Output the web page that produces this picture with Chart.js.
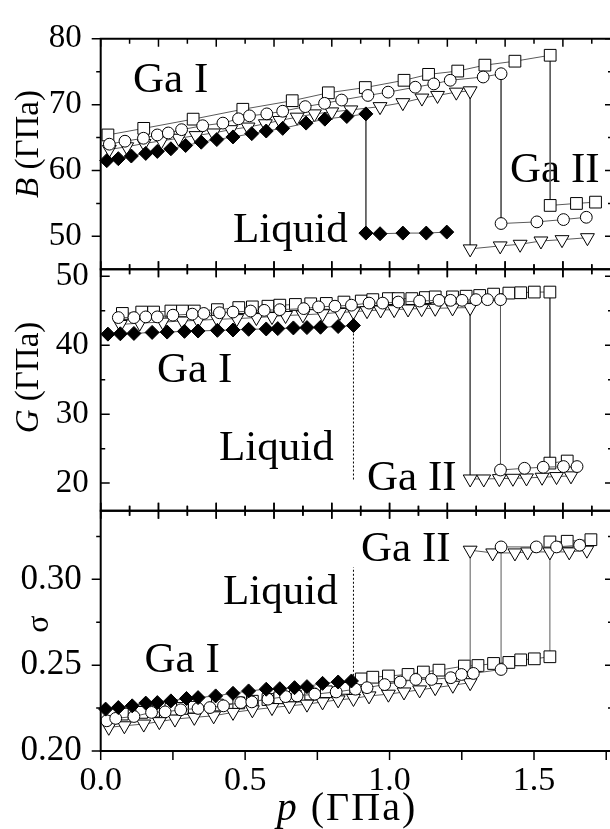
<!DOCTYPE html>
<html>
<head>
<meta charset="utf-8">
<script src="https://cdn.jsdelivr.net/npm/chart.js@4.4.1/dist/chart.umd.min.js"></script>
<style>
  html, body { margin: 0; padding: 0; background: #fff; width: 610px; height: 829px; overflow: hidden; }
  canvas { position: absolute; left: 0; top: 0; }
</style>
</head>
<body>
<canvas id="bChart" width="620" height="829"></canvas>
<canvas id="gChart" width="620" height="829"></canvas>
<canvas id="sChart" width="620" height="829"></canvas>
<script>
// ---- data: [p (GPa), value] ----
// bulk modulus B
const B_diamonds = [[0.021,61.5],[0.061,61.8],[0.106,62.2],[0.156,62.6],[0.196,62.9],[0.243,63.3],[0.294,63.8],[0.348,64.3],[0.402,64.7],[0.458,65.1],[0.523,65.6],[0.573,66.0],[0.630,66.4],[0.711,67.2],[0.776,67.8],[0.852,68.2],[0.918,68.6],
  [0.918,50.5],[0.967,50.4],[1.046,50.5],[1.127,50.5],[1.198,50.65]];
const B_squares = [[0.025,65.4],[0.149,66.4],[0.320,67.8],[0.492,69.3],[0.663,70.6],[0.788,71.8],[0.916,72.6],[1.050,73.7],[1.135,74.6],[1.236,75.1],[1.330,76.0],[1.434,76.6],[1.556,77.5],
  [1.556,54.7],[1.647,55.0],[1.713,55.2]];
const B_circles = [[0.030,64.0],[0.084,64.45],[0.148,64.9],[0.196,65.4],[0.234,65.7],[0.280,66.2],[0.353,66.8],[0.423,67.2],[0.477,67.85],[0.515,68.3],[0.575,68.6],[0.630,69.0],[0.708,69.7],[0.775,70.2],[0.834,70.7],[0.925,71.4],[0.995,71.9],[1.089,72.65],[1.153,73.15],[1.210,73.7],[1.324,74.2],[1.386,74.7],
  [1.386,51.95],[1.510,52.2],[1.602,52.55],[1.681,52.9]];
const B_triangles = [[0.030,63.2],[0.090,63.6],[0.150,64.1],[0.210,64.5],[0.270,64.9],[0.330,65.3],[0.390,65.7],[0.450,66.2],[0.510,66.6],[0.570,67.1],[0.620,67.6],[0.680,68.1],[0.740,68.6],[0.800,68.9],[0.866,69.2],[0.967,69.7],[1.046,70.3],[1.112,71.0],[1.166,71.4],[1.231,71.9],[1.279,72.1],
  [1.279,48.1],[1.383,48.55],[1.452,48.8],[1.524,49.3],[1.597,49.5],[1.685,49.8]];

// shear modulus G
const G_diamonds = [[0.025,41.6],[0.068,41.65],[0.115,41.7],[0.178,41.85],[0.230,41.9],[0.290,42.0],[0.337,42.05],[0.404,42.15],[0.458,42.2],[0.512,42.3],[0.573,42.35],[0.613,42.4],[0.667,42.5],[0.714,42.55],[0.761,42.6],[0.822,42.7],[0.875,42.85]];
const G_liquid = [[0.875,42.85],[0.875,20.5]];
const G_squares = [[0.075,44.6],[0.142,44.8],[0.183,44.8],[0.243,44.95],[0.283,44.95],[0.324,44.95],[0.404,45.15],[0.478,45.45],[0.525,45.55],[0.579,45.65],[0.620,45.8],[0.674,45.9],[0.727,46.0],[0.781,46.05],[0.842,46.25],[0.902,46.4],[0.942,46.6],[0.996,46.75],[1.030,46.75],[1.077,46.75],[1.124,46.9],[1.158,47.0],[1.218,47.0],[1.265,47.1],[1.312,47.2],[1.360,47.4],[1.413,47.55],[1.454,47.6],[1.501,47.7],[1.555,47.7],
  [1.555,22.9],[1.615,23.2]];
const G_circles = [[0.061,44.0],[0.115,44.0],[0.156,44.1],[0.196,44.1],[0.250,44.35],[0.317,44.5],[0.357,44.6],[0.411,44.7],[0.458,44.8],[0.519,44.95],[0.566,45.05],[0.620,45.15],[0.703,45.3],[0.754,45.55],[0.811,45.65],[0.868,45.8],[0.929,46.1],[0.976,46.1],[1.030,46.25],[1.104,46.4],[1.171,46.5],[1.211,46.5],[1.251,46.5],[1.299,46.6],[1.339,46.6],[1.384,46.6],
  [1.384,21.9],[1.467,22.15],[1.532,22.3],[1.602,22.4],[1.649,22.4]];
const G_triangles = [[0.068,43.0],[0.135,43.2],[0.215,43.35],[0.283,43.5],[0.337,43.6],[0.404,43.75],[0.471,43.85],[0.539,44.0],[0.593,44.15],[0.640,44.3],[0.700,44.4],[0.768,44.55],[0.828,44.75],[0.875,44.85],[0.922,45.0],[0.969,45.1],[1.016,45.15],[1.064,45.25],[1.111,45.3],[1.158,45.35],[1.218,45.4],[1.279,45.45],
  [1.279,20.6],[1.326,20.6],[1.380,20.65],[1.427,20.7],[1.474,20.75],[1.528,20.85],[1.578,20.95],[1.628,21.05]];

// Poisson ratio sigma
const S_diamonds = [[0.017,0.2244],[0.061,0.2253],[0.109,0.2263],[0.156,0.2279],[0.196,0.2282],[0.243,0.2292],[0.297,0.2306],[0.337,0.2311],[0.398,0.2321],[0.458,0.2336],[0.512,0.2350],[0.573,0.2360],[0.620,0.2363],[0.671,0.2369],[0.714,0.2375],[0.768,0.2394],[0.822,0.2402],[0.868,0.2408]];
const S_liquid = [[0.875,0.2415],[0.875,0.307]];
const S_squares = [[0.075,0.2215],[0.142,0.2225],[0.183,0.2232],[0.243,0.2242],[0.283,0.2248],[0.324,0.2255],[0.404,0.2268],[0.478,0.2280],[0.525,0.2290],[0.579,0.2300],[0.620,0.2310],[0.674,0.2320],[0.727,0.2332],[0.781,0.2345],[0.842,0.2365],[0.902,0.2420],[0.942,0.2430],[0.996,0.2437],[1.064,0.2446],[1.117,0.2460],[1.171,0.2471],[1.259,0.2495],[1.306,0.2498],[1.360,0.2510],[1.413,0.2516],[1.454,0.2531],[1.501,0.2537],[1.555,0.2549],
  [1.555,0.3218],[1.615,0.3222],[1.697,0.3231]];
const S_circles = [[0.021,0.2176],[0.052,0.2190],[0.115,0.2201],[0.176,0.2225],[0.223,0.2228],[0.277,0.2240],[0.337,0.2248],[0.378,0.2253],[0.425,0.2263],[0.485,0.2282],[0.523,0.2286],[0.579,0.2302],[0.640,0.2317],[0.680,0.2321],[0.741,0.2331],[0.815,0.2344],[0.882,0.2360],[0.922,0.2369],[0.983,0.2387],[1.037,0.2402],[1.091,0.2417],[1.145,0.2417],[1.212,0.2427],[1.249,0.2446],[1.290,0.2452],[1.386,0.2475],
  [1.386,0.3189],[1.508,0.3189],[1.578,0.3189],[1.658,0.3199]];
const S_triangles = [[0.028,0.2138],[0.082,0.2147],[0.149,0.2157],[0.203,0.2171],[0.257,0.2186],[0.324,0.2196],[0.391,0.2205],[0.458,0.2225],[0.525,0.2240],[0.593,0.2253],[0.653,0.2263],[0.714,0.2273],[0.768,0.2286],[0.822,0.2298],[0.875,0.2306],[0.929,0.2321],[0.996,0.2331],[1.050,0.2344],[1.104,0.2356],[1.158,0.2369],[1.219,0.2383],[1.279,0.2398],
  [1.279,0.3170],[1.357,0.3154],[1.434,0.3154],[1.478,0.3160],[1.555,0.3160],[1.622,0.3160],[1.683,0.3170]];

// ticks
const pAxisTicks = [0, 0.25, 0.5, 0.75, 1.0, 1.25, 1.5, 1.75];
const pEdgeTicks = [0, 0.1, 0.2, 0.3, 0.4, 0.5, 0.6, 0.7, 0.8, 0.9, 1.0, 1.1, 1.2, 1.3, 1.4, 1.5, 1.6, 1.7];
const bTicks = [50, 60, 70, 80], bMinor = [55, 65, 75];
const gTicks = [20, 30, 40, 50], gMinor = [25, 35, 45];
const sTicks = [0.20, 0.25, 0.30], sMinor = [0.225, 0.275, 0.325];

const FONT = "'Liberation Serif', 'Times New Roman', serif";
const W = 620, H = 829, LEFT = 100.7, RIGHT = 612;

function drawParts(ctx, parts, size, x, y, rotate, spacing) {
  ctx.save();
  ctx.translate(x, y);
  if (rotate) ctx.rotate(-Math.PI / 2);
  ctx.letterSpacing = (spacing || 0) + 'px';
  let total = 0;
  parts.forEach(p => { ctx.font = (p.i ? 'italic ' : '') + size + 'px ' + FONT; total += ctx.measureText(p.t).width; });
  let u = -total / 2;
  ctx.textBaseline = 'alphabetic';
  ctx.textAlign = 'left';
  ctx.fillStyle = '#000';
  parts.forEach(p => { ctx.font = (p.i ? 'italic ' : '') + size + 'px ' + FONT; ctx.fillText(p.t, u, 0); u += ctx.measureText(p.t).width; });
  ctx.restore();
}

const framePlugin = {
  id: 'frame',
  beforeDatasetsDraw(chart, args, o) {
    const ctx = chart.ctx;
    ctx.save();
    ctx.fillStyle = '#000';
    ctx.textBaseline = 'alphabetic';
    ctx.font = '43px ' + FONT;
    o.labels.forEach(l => ctx.fillText(l[0], l[1], l[2]));
    ctx.restore();
    drawParts(ctx, o.title.parts, o.title.size, o.title.x, o.title.y, o.title.rotate);
    if (o.xTitle) drawParts(ctx, o.xTitle.parts, o.xTitle.size, o.xTitle.x, o.xTitle.y, false, 2);
  },
  afterDraw(chart, args, o) {
    const { ctx, chartArea: a, scales: { x, y } } = chart;
    ctx.save();
    ctx.strokeStyle = '#000';
    ctx.lineWidth = 2;
    ctx.beginPath();
    ctx.moveTo(a.left, a.top - 1); ctx.lineTo(a.left, a.bottom + 1);
    ctx.moveTo(a.left, a.top); ctx.lineTo(a.right, a.top);
    ctx.moveTo(a.left, a.bottom); ctx.lineTo(a.right, a.bottom);
    ctx.moveTo(a.right, a.top); ctx.lineTo(a.right, a.bottom);
    ctx.stroke();
    ctx.lineWidth = 1.5;
    ctx.beginPath();
    const d = o.yInside ? 1 : -1;
    o.yMajor.forEach(v => {
      const py = y.getPixelForValue(v);
      ctx.moveTo(a.left, py); ctx.lineTo(a.left + d * 9, py);
      ctx.moveTo(a.right, py); ctx.lineTo(a.right - 7, py);
    });
    o.yMinor.forEach(v => {
      const py = y.getPixelForValue(v);
      ctx.moveTo(a.left, py); ctx.lineTo(a.left + d * 4.5, py);
      ctx.moveTo(a.right, py); ctx.lineTo(a.right - 4, py);
    });
    // ticks on the top edge
    pEdgeTicks.forEach((v, i) => {
      const px = x.getPixelForValue(v);
      const len = i % 2 === 0 ? 8 : 5;
      if (o.topEdge === 'in') { ctx.moveTo(px, a.top); ctx.lineTo(px, a.top + len); }
      else { ctx.moveTo(px, a.top - len); ctx.lineTo(px, a.top + len); }
    });
    if (o.bottomAxis) {
      pAxisTicks.forEach(v => {
        const px = x.getPixelForValue(v);
        ctx.moveTo(px, a.bottom); ctx.lineTo(px, a.bottom + 9);
      });
    } else {
      pEdgeTicks.forEach((v, i) => {
        const px = x.getPixelForValue(v);
        const len = i % 2 === 0 ? 8 : 5;
        ctx.moveTo(px, a.bottom - len); ctx.lineTo(px, a.bottom + len);
      });
    }
    ctx.stroke();
    ctx.restore();
  }
};

function series(points, style) {
  const base = {
    data: points.map(([x, y]) => ({ x, y })),
    showLine: true,
    borderColor: '#5a5a5a',
    borderWidth: 1,
    pointBorderColor: '#000',
    pointBorderWidth: 1,
    pointBackgroundColor: '#fff',
    clip: false
  };
  if (style === 'diamond') Object.assign(base, { pointStyle: 'rectRot', pointRadius: 7, pointBackgroundColor: '#000' });
  if (style === 'square') Object.assign(base, { pointStyle: 'rect', pointRadius: 8.3 });
  if (style === 'circle') Object.assign(base, { pointStyle: 'circle', pointRadius: 5.9 });
  if (style === 'triangle') Object.assign(base, { pointStyle: 'triangle', pointRotation: 180, pointRadius: 8 });
  if (style === 'dotted') Object.assign(base, { pointRadius: 0, borderColor: '#000', borderDash: [2, 2] });
  return base;
}

function panel(id, cfg) {
  const showX = !!cfg.bottomAxis;
  const xScale = {
    type: 'linear', min: 0, max: 1.77, display: showX,
    grid: { display: false, drawTicks: false }, border: { display: false },
    afterBuildTicks: s => { s.ticks = pAxisTicks.map(v => ({ value: v })); },
    ticks: {
      padding: 10, color: '#000', font: { family: FONT, size: 34 }, maxRotation: 0, autoSkip: false,
      callback: v => (Math.abs(v * 2 - Math.round(v * 2)) < 1e-6 ? v.toFixed(1) : '')
    }
  };
  if (showX) xScale.afterFit = s => { s.height = H - cfg.bottom; };
  new Chart(document.getElementById(id), {
    type: 'scatter',
    data: { datasets: cfg.datasets },
    options: {
      responsive: false,
      animation: false,
      events: [],
      layout: { autoPadding: false, padding: { left: 0, right: W - RIGHT, top: cfg.top, bottom: showX ? 0 : H - cfg.bottom } },
      plugins: { legend: { display: false }, tooltip: { enabled: false }, frame: cfg.frame },
      scales: {
        x: xScale,
        y: {
          type: 'linear', min: cfg.yMin, max: cfg.yMax,
          grid: { display: false, drawTicks: false }, border: { display: false },
          afterBuildTicks: s => { s.ticks = cfg.yTicks.map(v => ({ value: v })); },
          afterFit: s => { s.width = LEFT; },
          ticks: {
            padding: cfg.yPad, color: '#000', font: { family: FONT, size: cfg.yFont },
            callback: v => v.toFixed(cfg.digits)
          }
        }
      }
    },
    plugins: [framePlugin]
  });
}

panel('bChart', {
  top: 29.3, bottom: 269.3, yMin: 45, yMax: 80, yTicks: bTicks, yPad: 19, yFont: 33, digits: 0,
  datasets: [series(B_diamonds, 'diamond'), series(B_circles, 'circle'), series(B_triangles, 'triangle'), series(B_squares, 'square')],
  frame: {
    yMajor: bTicks, yMinor: bMinor, yInside: false, topEdge: 'in',
    labels: [['Ga I', 133, 91.7], ['Liquid', 233, 241.5], ['Ga II', 510, 181.7]],
    title: { parts: [{ t: 'B', i: true }, { t: ' (ГПа)' }], size: 33, x: 37.5, y: 144, rotate: true }
  }
});

panel('gChart', {
  top: 269.3, bottom: 510.7, yMin: 16, yMax: 51, yTicks: gTicks, yPad: 12, yFont: 33, digits: 0,
  datasets: [series(G_liquid, 'dotted'), series(G_diamonds, 'diamond'), series(G_circles, 'circle'), series(G_triangles, 'triangle'), series(G_squares, 'square')],
  frame: {
    yMajor: gTicks, yMinor: gMinor, yInside: true, topEdge: 'cross',
    labels: [['Ga I', 157, 382], ['Liquid', 219, 460], ['Ga II', 367, 490]],
    title: { parts: [{ t: 'G', i: true }, { t: ' (ГПа)' }], size: 33, x: 37.5, y: 377.5, rotate: true }
  }
});

panel('sChart', {
  top: 510.7, bottom: 751, yMin: 0.20, yMax: 0.34, yTicks: sTicks, yPad: 19, yFont: 35, digits: 2, bottomAxis: true,
  datasets: [series(S_liquid, 'dotted'), series(S_diamonds, 'diamond'), series(S_circles, 'circle'), series(S_triangles, 'triangle'), series(S_squares, 'square')],
  frame: {
    yMajor: sTicks, yMinor: sMinor, yInside: false, topEdge: 'cross', bottomAxis: true,
    labels: [['Ga II', 361, 560.7], ['Liquid', 223, 604], ['Ga I', 144.5, 671.7]],
    title: { parts: [{ t: 'σ' }], size: 32, x: 48, y: 624, rotate: true },
    xTitle: { parts: [{ t: 'p', i: true }, { t: ' (ГПа)' }], size: 40, x: 347, y: 820 }
  }
});
</script>
</body>
</html>
